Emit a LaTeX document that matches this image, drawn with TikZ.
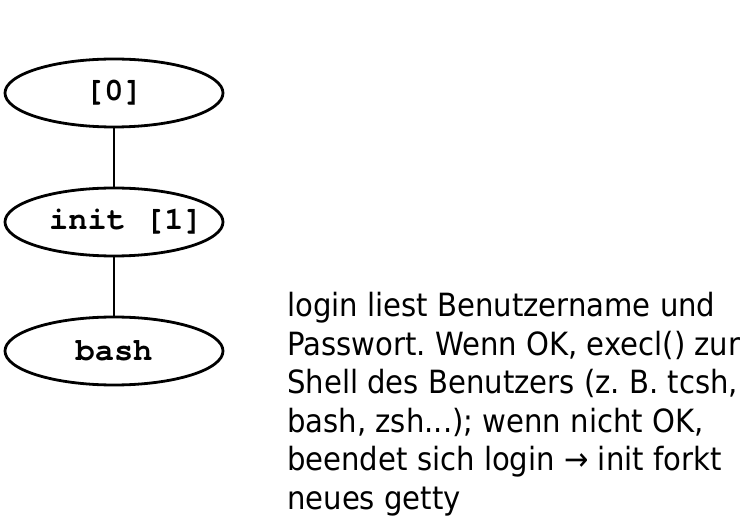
\documentclass[tikz,border=0pt]{standalone}
\usepackage{fontspec}
\setmainfont{DejaVu Sans}[FakeStretch=0.91]
\setmonofont{TeX Gyre Cursor}
\usepackage{tikz}
\usetikzlibrary{shapes.geometric}
\frenchspacing

\tikzset{proc/.style={draw, line width=2.8pt, ellipse, minimum width=218pt, minimum height=68pt, inner sep=0pt, font=\ttfamily\bfseries\fontsize{32}{32}\selectfont}}

\begin{document}
\begin{tikzpicture}[x=1pt,y=-1pt]
    \useasboundingbox (0,0) rectangle (753,529);
    \node [proc] (p0) at (114,93) {[0]};
    \node [proc] (init) at (114,222) {\makebox[0pt]{\hspace*{24pt}init [1]}};
    \node [proc] (bash) at (114,351) {bash};
    \node [anchor=north west, align=left, inner sep=0pt, font=\fontsize{32}{38.6}\selectfont] (txt) at (287,292)
      {login liest Benutzername und\\
       Passwort. Wenn OK, execl() zur\\
       Shell des Benutzers (z. B. tcsh,\\
       bash, zsh...); wenn nicht OK,\\
       beendet sich login → init forkt\\
       neues getty};
    \draw [line width=2.8pt] (p0) -- (init);
    \draw [line width=2.8pt] (init) -- (bash);
\end{tikzpicture}
\end{document}
